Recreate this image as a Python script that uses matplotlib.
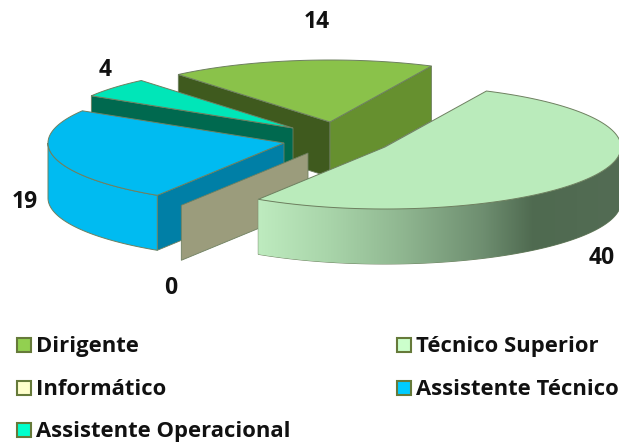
import numpy as np
import matplotlib

matplotlib.use("Agg", force=True)
import matplotlib.pyplot as plt
from matplotlib.colors import LinearSegmentedColormap
from matplotlib.patches import Polygon, Rectangle

categories = ["Dirigente", "Técnico Superior", "Informático", "Assistente Técnico", "Assistente Operacional"]
values = [14, 40, 0, 19, 4]

top_colors = ["#8AC24A", "#BAEBBB", "#9B9C7C", "#00BBF1", "#00E6B8"]
cut_colors = [("#3F5A1E", "#66902F"), (None, None), ("#9B9C7C", None), ("#007FA6", None), ("#00694F", None)]
legend_colors = ["#92D050", "#CCFFCC", "#FFFFCC", "#00CCFF", "#00FFCC"]

# layout of the exploded pie, in pixels
apexes = [(330, 122), (385, 147), (308, 153), (284, 143), (293, 128)]
label_pos = [(317, 22), (602, 258), (171, 288), (25, 202), (105, 70)]
legend_pos = [(17, 345), (397, 345), (17, 388), (397, 388), (17, 430)]
draw_order = [0, 4, 3, 2, 1]
start_angle = -40
rx, ry, depth = 236, 62, 55
edge = "#6E8060"
font = "Open Sans"


def rim(apex, t):
    t = np.radians(t)
    return np.column_stack([apex[0] + rx * np.sin(t), apex[1] - ry * np.cos(t)])


def draw_side(ax, apex, t0, t1, color, z):
    # outer wall, only the part facing the viewer
    t0, t1 = max(t0, 90), min(t1, 270)
    if t1 <= t0:
        return None
    arc = rim(apex, np.linspace(t0, t1, 120))
    poly = Polygon(np.vstack([arc, arc[::-1] + [0, depth]]), closed=True, fc=color, ec=edge, lw=0.7, zorder=z)
    ax.add_patch(poly)
    return poly


fig = plt.figure(figsize=(6.19, 4.44), dpi=100)
ax = fig.add_axes([0, 0, 1, 1])

shade = LinearSegmentedColormap.from_list(
    "shade",
    [(0.0, "#BEEBBF"), (0.2, "#A8D4A9"), (0.4, "#8FB690"), (0.62, "#6E8E70"), (0.76, "#4F6A50"), (1.0, "#536C54")],
)

edges = start_angle + np.cumsum([0] + values) / sum(values) * 360
# painter's order, back to front
for z, i in enumerate(draw_order):
    z = z + 1
    apex = apexes[i]
    t0, t1 = edges[i], edges[i + 1]
    for t, color in zip((t0, t1), cut_colors[i]):
        if color is None:
            continue
        p = rim(apex, t)[0]
        quad = [apex, p, p + [0, depth], (apex[0], apex[1] + depth)]
        ax.add_patch(Polygon(quad, closed=True, fc=color, ec=edge, lw=0.6, zorder=z))
    side = draw_side(ax, apex, t0, t1, top_colors[i], z)
    if side is not None and categories[i] == "Técnico Superior":
        img = ax.imshow(
            np.linspace(0, 1, 256)[None, :], cmap=shade, aspect="auto",
            extent=(258, 621, 300, 100), zorder=z + 0.1,
        )
        img.set_clip_path(side)
    if t1 > t0:
        arc = rim(apex, np.linspace(t0, t1, 120))
        ax.add_patch(Polygon(np.vstack([[apex], arc]), closed=True, fc=top_colors[i], ec=edge, lw=0.7, zorder=z + 0.5))

for value, (x, y) in zip(values, label_pos):
    ax.text(x, y, str(value), ha="center", va="center", fontsize=16.5, fontweight="bold", family=font, color="#111111")

for name, color, (x, y) in zip(categories, legend_colors, legend_pos):
    ax.add_patch(Rectangle((x, y - 7), 14, 14, fc=color, ec="#667A3A", lw=1.5))
    ax.text(x + 19, y + 1, name, ha="left", va="center", fontsize=15.8, fontweight="bold", family=font, color="#111111")

ax.set_xlim(0, 619)
ax.set_ylim(444, 0)
ax.axis("off")
fig.savefig("out.png", dpi=100)
plt.close(fig)
